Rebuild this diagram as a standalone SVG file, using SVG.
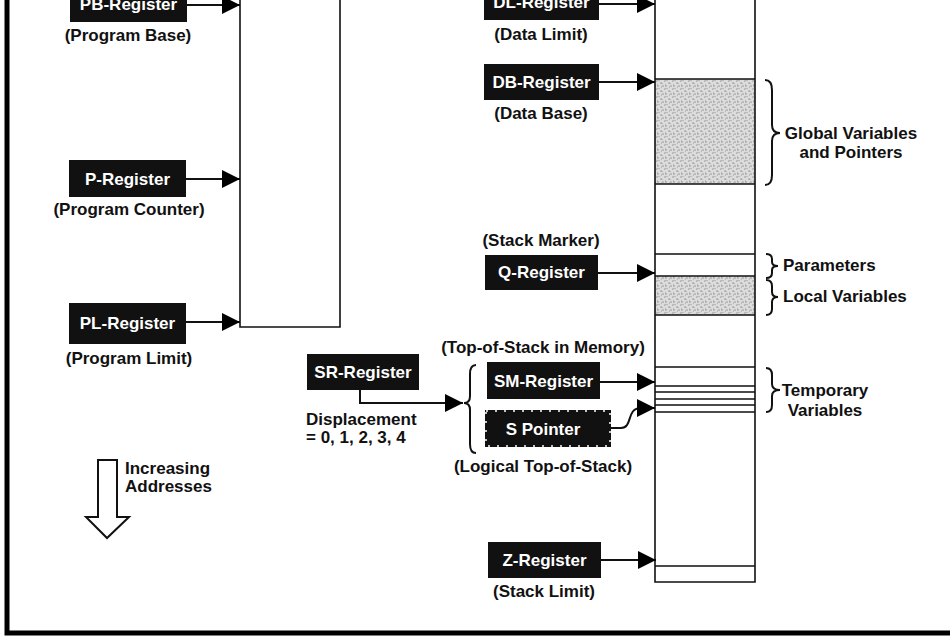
<svg xmlns="http://www.w3.org/2000/svg" width="950" height="636" viewBox="0 0 950 636">
<defs>
<marker id="ah" markerUnits="userSpaceOnUse" markerWidth="19" markerHeight="18" refX="18" refY="9" orient="auto">
<path d="M0,0 L18,9 L0,18 Z" fill="#000"/>
</marker>
<pattern id="stip" patternUnits="userSpaceOnUse" width="8" height="8">
<rect width="8" height="8" fill="#dcdcdc"/>
<path d="M0,1 h2 M4,3 h2 v1 M1,5 h1 v2 M6,6 h2 M3,0 v1 M5,7 h1" stroke="#8a8a8a" stroke-width="0.8" fill="none"/>
</pattern>
<style>
.lbl{font-family:"Liberation Sans",Arial,sans-serif;font-weight:bold;font-size:17px;fill:#111}
.reg{font-family:"Liberation Sans",Arial,sans-serif;font-weight:bold;font-size:17px;fill:#fff}
.box{fill:#111}
.ln{stroke:#111;stroke-width:1.6;fill:none}
.arr{stroke:#111;stroke-width:2;fill:none;marker-end:url(#ah)}
.br{stroke:#111;stroke-width:2;fill:none}
</style>
</defs>
<rect width="950" height="636" fill="#fff"/>
<!-- frame -->
<path d="M7,-5 L7,633 L955,633" stroke="#000" stroke-width="5" fill="none"/>

<!-- program area -->
<g id="program-area">
<path class="ln" d="M240,-2 L240,327 L340,327 L340,-2"/>
</g>

<!-- memory/data column -->
<g id="data-column">
<rect x="655" y="79" width="100" height="105" fill="url(#stip)"/>
<rect x="655" y="276" width="100" height="39" fill="url(#stip)"/>
<path class="ln" d="M655,-2 L655,582 L755,582 L755,-2"/>
<path class="ln" d="M655,79 H755 M655,184 H755 M655,254 H755 M655,276 H755 M655,315 H755 M655,367 H755 M655,386 H755 M655,392 H755 M655,399 H755 M655,405 H755 M655,412 H755 M655,566 H755"/>
</g>

<g id="connectors">
<line class="arr" x1="187" y1="5" x2="240" y2="5"/>
<line class="arr" x1="186" y1="179" x2="240" y2="179"/>
<line class="arr" x1="186" y1="322" x2="240" y2="322"/>
<line class="arr" x1="599" y1="4" x2="655" y2="4"/>
<line class="arr" x1="599" y1="82" x2="655" y2="82"/>
<line class="arr" x1="598" y1="273" x2="655" y2="273"/>
<line class="arr" x1="600" y1="382" x2="655" y2="382"/>
<path class="arr" d="M611,428 L621,428 C633,428 626,409 640,408 L655,408"/>
<line class="arr" x1="601" y1="560" x2="656" y2="560"/>
<path class="arr" d="M360,390 L360,403 L463,403"/>
</g>

<g id="pb-register">
<rect class="box" x="70" y="-16" width="117" height="38"/>
<text class="reg" x="128.5" y="10" text-anchor="middle">PB-Register</text>
<text class="lbl" x="128" y="41" text-anchor="middle">(Program Base)</text>
</g>
<g id="p-register">
<rect class="box" x="69" y="160" width="117" height="37"/>
<text class="reg" x="127.5" y="185" text-anchor="middle">P-Register</text>
<text class="lbl" x="129" y="215" text-anchor="middle">(Program Counter)</text>
</g>
<g id="pl-register">
<rect class="box" x="69" y="303" width="117" height="41"/>
<text class="reg" x="127.5" y="329" text-anchor="middle">PL-Register</text>
<text class="lbl" x="129" y="364" text-anchor="middle">(Program Limit)</text>
</g>
<g id="increasing-addresses">
<path d="M98,460 L117,460 L117,517 L129,517 L107,538 L86,517 L98,517 Z" stroke="#111" stroke-width="2" fill="#fff"/>
<text class="lbl" x="125" y="474">Increasing</text>
<text class="lbl" x="125" y="492">Addresses</text>
</g>

<g id="dl-register">
<rect class="box" x="484" y="-16" width="115" height="36"/>
<text class="reg" x="541.5" y="8" text-anchor="middle">DL-Register</text>
<text class="lbl" x="541" y="40" text-anchor="middle">(Data Limit)</text>
</g>
<g id="db-register">
<rect class="box" x="484" y="64" width="115" height="36"/>
<text class="reg" x="541.5" y="88" text-anchor="middle">DB-Register</text>
<text class="lbl" x="541" y="119" text-anchor="middle">(Data Base)</text>
</g>
<g id="q-register">
<text class="lbl" x="541" y="246" text-anchor="middle">(Stack Marker)</text>
<rect class="box" x="485" y="255" width="113" height="35"/>
<text class="reg" x="541.5" y="278" text-anchor="middle">Q-Register</text>
</g>
<g id="sr-register">
<rect class="box" x="307" y="354" width="112" height="36"/>
<text class="reg" x="363" y="378" text-anchor="middle">SR-Register</text>
<text class="lbl" x="306" y="425">Displacement</text>
<text class="lbl" x="306" y="443">= 0, 1, 2, 3, 4</text>
</g>
<g id="sm-register">
<text class="lbl" x="543" y="353" text-anchor="middle">(Top-of-Stack in Memory)</text>
<rect class="box" x="487" y="362" width="113" height="37"/>
<text class="reg" x="543.5" y="387" text-anchor="middle">SM-Register</text>
</g>
<g id="s-pointer">
<rect class="box" x="485" y="410" width="126" height="37"/>
<rect x="486" y="411" width="124" height="35" fill="none" stroke="#fff" stroke-width="1.5" stroke-dasharray="2,7"/>
<text class="reg" x="543" y="435" text-anchor="middle">S Pointer</text>
<text class="lbl" x="543" y="472" text-anchor="middle">(Logical Top-of-Stack)</text>
</g>
<g id="stack-brace">
<path class="br" d="M476,365 Q470,365 470,374 L470,396 Q470,403 464,403 Q470,403 470,410 L470,444 Q470,453 476,453"/>
</g>
<g id="z-register">
<rect class="box" x="488" y="542" width="113" height="36"/>
<text class="reg" x="544.5" y="566" text-anchor="middle">Z-Register</text>
<text class="lbl" x="544" y="597" text-anchor="middle">(Stack Limit)</text>
</g>

<g id="global-vars">
<path class="br" d="M765,80 Q772,80 772,90 L772,125 Q772,133 780,133 Q772,133 772,141 L772,175 Q772,185 765,185"/>
<text class="lbl" x="851" y="139" text-anchor="middle">Global Variables</text>
<text class="lbl" x="851" y="158" text-anchor="middle">and Pointers</text>
</g>
<g id="parameters">
<path class="br" d="M766,254 Q772,254 772,259 L772,262 Q772,266 778,266 Q772,266 772,270 L772,273 Q772,278 766,278"/>
<text class="lbl" x="783" y="271">Parameters</text>
</g>
<g id="local-vars">
<path class="br" d="M766,280 Q772,280 772,286 L772,292 Q772,297 778,297 Q772,297 772,302 L772,309 Q772,315 766,315"/>
<text class="lbl" x="783" y="302">Local Variables</text>
</g>
<g id="temp-vars">
<path class="br" d="M766,368 Q772,368 772,375 L772,384 Q772,390 780,390 Q772,390 772,396 L772,405 Q772,412 766,412"/>
<text class="lbl" x="825" y="396" text-anchor="middle">Temporary</text>
<text class="lbl" x="825" y="416" text-anchor="middle">Variables</text>
</g>
</svg>
